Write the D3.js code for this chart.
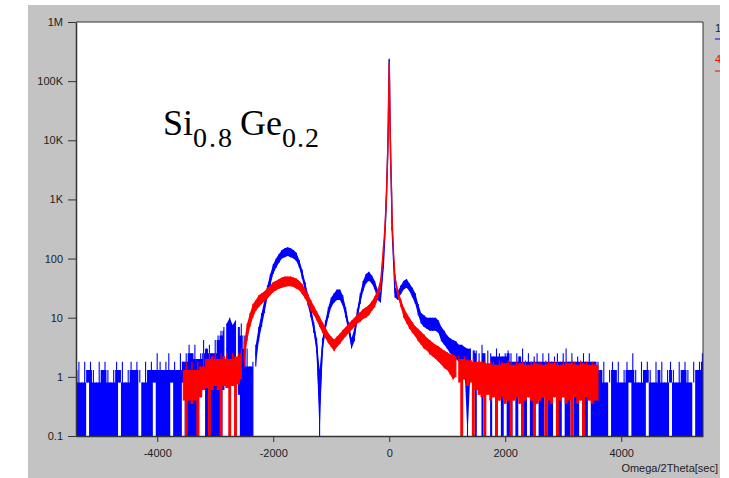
<!DOCTYPE html>
<html><head><meta charset="utf-8">
<script src="https://cdn.jsdelivr.net/npm/d3@7"></script>
<style>body{margin:0;background:#fff}svg{display:block}</style>
</head><body>
<svg id="c" width="729" height="478"></svg>
<script>
// ---- data ----
const sampleStep = 50;          // sec between grid samples
const gridStart = -5400, gridEnd = 5400;

// sample "1" (blue): upper / lower envelope of the trace at each grid angle
const blueHi = [
 1.3,1.8,0.8,1.8,1.3,1.8,1.3,0.8,1.8,1.3,
 1.8,1.3,0.8,1.3,1.8,1.3,1.8,0.8,1.3,1.8,
 1.3,1.8,1.3,0.8,1.8,1.3,1.8,1.3,2.5,1.8,
 1.3,1.8,2.5,1.3,1.8,1.3,2.5,1.8,2.5,3.5,
 2.5,3.5,2,2.5,4.2,3,3.5,2.5,4.2,5,
 6,7,8,10,7.5,9,7,8,5,3,
 1.5,1.8,3.5,7,12,20,35,55,80,100,
 120,140,150,155,150,140,125,95,65,40,
 25,15,8.5,4.5,1.3,4.5,9,15,22,26,
 30,30,24,15,8.5,4.5,6.5,14,26,42,
 55,60,52,42,30,26,95,1000,240000,350,
 32,28,35,42,45,38,32,26,17,12,
 11,10,10,10,10,9,7,6,5,4.5,
 4.2,4,3.5,3.5,3.2,3,3,2.8,2.8,2.5,
 3.5,2.5,2.8,2.5,2.2,3,2.5,2.2,2.5,2.8,
 2.5,1.8,2.5,2.2,3,1.8,2.5,1.8,2.2,2.5,
 1.8,2.5,1.8,2.5,1.8,2.2,2.5,1.8,2.5,3,
 1.8,2.5,1.8,2.2,1.8,2.5,1.8,2.5,1.8,1.8,
 1.8,1.3,1.8,0.8,1.3,1.8,1.3,1.8,0.8,1.3,
 1.8,1.3,2.5,1.3,0.8,1.8,1.3,1.8,1.3,0.8,
 1.8,1.3,1.8,0.8,1.3,1.8,1.3,0.8,1.8,1.3,
 1.8,1.3,0.8,1.8,1.3,1.8,2.5
];
const blueLo = [
 0.1,0.1,0.1,0.1,0.8,0.1,0.1,0.1,0.1,0.1,
 0.1,0.1,0.1,0.1,0.1,0.8,0.1,0.1,0.1,0.1,
 0.1,0.1,0.8,0.1,0.1,0.1,0.1,0.8,0.1,0.1,
 0.1,0.1,0.1,0.8,0.1,0.1,0.1,0.8,0.1,0.1,
 0.1,0.1,0.1,0.5,0.6,0.1,0.1,0.1,0.1,0.1,
 0.1,0.6,1,1.5,0.8,1.2,0.5,0.1,0.1,0.1,
 0.1,0.1,1.5,4,7,12,22,35,55,70,
 85,100,105,110,105,100,90,70,45,28,
 16,10,5.5,2.5,0.1,2.5,6,10,15,18,
 20,20,16,10,5.5,3,4,9,17,28,
 38,42,38,30,20,18,70,800,220000,300,
 22,20,25,30,32,28,22,17,11,8,
 7,6.5,6,6,6,5.5,4,3.5,3,2.5,
 2.2,2,1.8,1.5,1.3,0.1,1.2,0.8,0.1,1,
 0.1,0.8,1,0.1,0.8,0.1,0.6,0.1,0.8,0.1,
 0.1,0.6,0.1,0.8,0.1,0.1,0.6,0.1,0.1,0.8,
 0.1,0.1,0.8,0.1,0.1,0.6,0.1,0.1,0.8,0.1,
 0.1,0.8,0.1,0.1,0.6,0.1,0.1,0.8,0.1,0.1,
 0.1,0.1,0.1,0.1,0.8,0.1,0.1,0.1,0.1,0.1,
 0.1,0.8,0.1,0.1,0.1,0.1,0.1,0.8,0.1,0.1,
 0.1,0.1,0.1,0.1,0.1,0.8,0.1,0.1,0.1,0.1,
 0.1,0.1,0.1,0.8,0.1,0.1,0.1
];
// sample "4" (red): measured only from -3550 to 3600 sec
const redHi = [
 null,null,null,null,null,null,null,null,null,null,
 null,null,null,null,null,null,null,null,null,null,
 null,null,null,null,null,null,null,null,null,null,
 null,null,null,null,null,null,null,1.3,1.8,1.3,
 1.8,1.3,1.8,1.5,2.5,2,2.5,2.2,2.5,2,
 2.5,2.2,2.5,2,2.5,2.2,2.5,3,4,8,
 12,17,20,24,26,28,32,35,40,42,
 45,48,50,50,50,48,46,42,37,31,
 25,20,16,13,10.5,8.5,7,5.5,4.8,4.3,
 4.8,5.4,6.2,7,8,9,10,11.5,12.5,14,
 15,16.5,19,23,30,45,170,1100,210000,500,
 55,30,21,15,12,10,8.5,7.2,6.5,5.8,
 5.2,4.6,4.2,3.8,3.5,3.3,3,2.8,2.6,2.4,
 2.4,2.2,2.3,2,2.2,2,1.9,2.1,1.8,1.9,
 1.8,1.9,1.7,1.9,1.8,1.6,1.9,1.8,1.7,1.9,
 1.8,1.6,1.9,1.7,1.8,1.9,1.6,1.8,1.9,1.7,
 1.8,1.6,1.9,1.8,1.7,1.9,1.8,1.6,1.9,1.8,
 1.7,1.9,1.8,1.6,1.9,1.7,1.8,1.6,1.8,1.7,
 1.6,null,null,null,null,null,null,null,null,null,
 null,null,null,null,null,null,null,null,null,null,
 null,null,null,null,null,null,null,null,null,null,
 null,null,null,null,null,null,null
];
const redLo = [
 null,null,null,null,null,null,null,null,null,null,
 null,null,null,null,null,null,null,null,null,null,
 null,null,null,null,null,null,null,null,null,null,
 null,null,null,null,null,null,null,0.4,0.1,0.4,
 0.35,0.4,0.1,0.45,0.6,0.65,0.1,0.6,0.7,0.6,
 0.1,0.7,0.65,0.1,0.7,0.1,0.75,0.9,1.5,4,
 7,10,13,15,17,19,21,24,27,29,
 31,32,33,34,34,33,31,29,25,21,
 17,13,11,9,7,5.5,4.5,3.7,3.2,2.7,
 3.2,3.6,4.2,4.8,5.5,6.2,7,8,8.5,9.5,
 10,11,13,15,20,30,120,900,190000,400,
 40,22,15,10,8,6.5,5.5,4.8,4,3.5,
 3,2.8,2.4,2.2,2,1.8,1.6,1.4,1.3,1.1,
 0.9,1,0.8,0.1,0.9,0.7,0.8,0.1,0.6,0.5,
 0.45,0.1,0.5,0.4,0.45,0.1,0.4,0.45,0.35,0.4,
 0.1,0.4,0.45,0.35,0.1,0.4,0.45,0.4,0.1,0.35,
 0.4,0.45,0.1,0.4,0.35,0.45,0.1,0.4,0.45,0.35,
 0.4,0.1,0.45,0.35,0.4,0.1,0.45,0.4,0.35,0.4,
 0.4,null,null,null,null,null,null,null,null,null,
 null,null,null,null,null,null,null,null,null,null,
 null,null,null,null,null,null,null,null,null,null,
 null,null,null,null,null,null,null
];
// finer samples across the substrate peak
const peakAngles = [-75,-40,-25,-15,-10,-5,5,10,15,25,40,75];
const bluePeak   = [250,2000,6500,20000,45000,110000,100000,40000,18000,5000,1200,95];
const redPeak    = [320,2200,6500,20000,45000,100000,90000,38000,17000,5000,1400,120];

const yTickValues = [0.1,1,10,100,1e3,1e4,1e5,1e6];
const yTickLabels = ["0.1","1","10","100","1K","10K","100K","1M"];
const xTickValues = [-4000,-2000,0,2000,4000];
const seriesNames = ["1","4"];
const seriesColors = ["#0000ff","#ff0000"];
const xLabel = "Omega/2Theta[sec]";

// ---- build series ----
const gridAngles = d3.range(gridStart, gridEnd + 1, sampleStep);
function buildSeries(lo, hi, peak) {
  const rows = gridAngles.map((s, i) => ({s, lo: lo[i], hi: hi[i]})).filter(d => d.hi != null);
  peakAngles.forEach((s, i) => rows.push({s, lo: peak[i], hi: peak[i]}));
  rows.sort((a, b) => a.s - b.s);
  // noise floor parts: solid body = level shared with both neighbours, the rest drawn as spikes
  rows.forEach((d, i) => {
    const nb = [rows[i - 1], d, rows[i + 1]].filter(Boolean).map(r => r.hi);
    d.top = Math.max(d.lo, d3.min(nb));
    d.signal = d.lo >= 1 || (rows[i - 1] && rows[i - 1].lo >= 1 && rows[i + 1] && rows[i + 1].lo >= 1);
  });
  return rows;
}
const series = [buildSeries(blueLo, blueHi, bluePeak), buildSeries(redLo, redHi, redPeak)];

// ---- layout ----
const svg = d3.select("#c");
const W = 729, H = 478;
const plot = {left: 76, right: 703, top: 22, bottom: 436};

svg.append("rect").attr("x", 28).attr("y", 5).attr("width", 692).attr("height", H - 5).attr("fill", "#c3c3c3");
svg.append("rect").attr("x", plot.left).attr("y", plot.top)
  .attr("width", plot.right - plot.left).attr("height", plot.bottom - plot.top).attr("fill", "#fff");

const x = d3.scaleLinear().domain([-5400, 5410]).range([plot.left, plot.right]);
const y = d3.scaleLog().domain([0.1, 1e6]).range([plot.bottom, plot.top]).clamp(true);

svg.append("clipPath").attr("id", "pc").append("rect")
  .attr("x", plot.left).attr("y", plot.top).attr("width", plot.right - plot.left).attr("height", plot.bottom - plot.top);

const g = svg.append("g").attr("clip-path", "url(#pc)");
const floorArea = d3.area().curve(d3.curveStep).defined(d => !d.signal)
  .x(d => x(d.s)).y0(d => y(Math.max(d.lo, 0.1))).y1(d => y(d.top));
const bandArea = d3.area().defined(d => d.signal)
  .x(d => x(d.s)).y0(d => y(Math.max(d.lo, 0.1))).y1(d => y(d.hi));
const mid = d3.line().defined(d => d.signal).x(d => x(d.s)).y(d => y(Math.sqrt(d.lo * d.hi)));

series.forEach((rows, k) => {
  const c = seriesColors[k];
  g.append("path").attr("d", floorArea(rows)).attr("fill", c);
  g.append("path").attr("d", bandArea(rows)).attr("fill", c);
  g.append("path")
    .attr("d", rows.map(d => `M${x(d.s).toFixed(1)},${y(Math.max(d.lo, 0.1)).toFixed(1)}V${y(d.hi).toFixed(1)}`).join(""))
    .attr("stroke", c).attr("stroke-width", 1.1).attr("fill", "none");
  g.append("path").attr("d", mid(rows)).attr("fill", "none").attr("stroke", c).attr("stroke-width", 1.4);
});

// frame
svg.append("path").attr("d", `M${plot.left},${plot.top}H${plot.right}V${plot.bottom}`)
  .attr("fill", "none").attr("stroke", "#333").attr("stroke-width", 1);

// axes
const font = "'Liberation Sans', Arial, sans-serif";
const yAxis = svg.append("g").attr("transform", `translate(${plot.left},0)`)
  .call(d3.axisLeft(y).tickValues(yTickValues).tickFormat((d, i) => yTickLabels[i]).tickSize(8).tickSizeOuter(0).tickPadding(5));
const xAxis = svg.append("g").attr("transform", `translate(0,${plot.bottom})`)
  .call(d3.axisBottom(x).tickValues(xTickValues).tickFormat(d => d < 0 ? "-" + Math.abs(d) : String(d)).tickSize(6).tickSizeOuter(0).tickPadding(7));
[yAxis, xAxis].forEach(a => {
  a.select(".domain").attr("stroke", "#333").attr("stroke-width", 1.5);
  a.selectAll(".tick line").attr("stroke", "#333");
  a.selectAll("text").attr("fill", "#222").style("font-family", font).style("font-size", "11px");
});

svg.append("text").attr("x", 718).attr("y", 472).attr("text-anchor", "end")
  .style("font-family", font).style("font-size", "11px").attr("fill", "#222").text(xLabel);

// legend (cut at the panel's right edge)
const leg = svg.append("g");
seriesNames.forEach((n, i) => {
  leg.append("text").attr("x", 715).attr("y", 32 + i * 31).style("font-family", font).style("font-size", "11px")
    .attr("fill", i === 0 ? "#222" : seriesColors[i]).text(n);
  leg.append("line").attr("x1", 715).attr("x2", 725).attr("y1", 39 + i * 32).attr("y2", 39 + i * 32)
    .attr("stroke", seriesColors[i]).attr("stroke-width", 1);
});
svg.append("rect").attr("x", 720).attr("y", 0).attr("width", W - 720).attr("height", H).attr("fill", "#fff");

// sample label
const t = svg.append("text").attr("x", 163).attr("y", 135)
  .style("font-family", "'Liberation Serif', 'Times New Roman', serif").style("font-size", "36px").attr("fill", "#000");
t.append("tspan").text("Si");
t.append("tspan").attr("dy", 12).style("font-size", "28px").attr("letter-spacing", "2px").text("0.8");
t.append("tspan").attr("dy", -12).attr("dx", 6).text("Ge");
t.append("tspan").attr("dy", 12).style("font-size", "28px").attr("letter-spacing", "1px").text("0.2");
</script>
</body></html>
